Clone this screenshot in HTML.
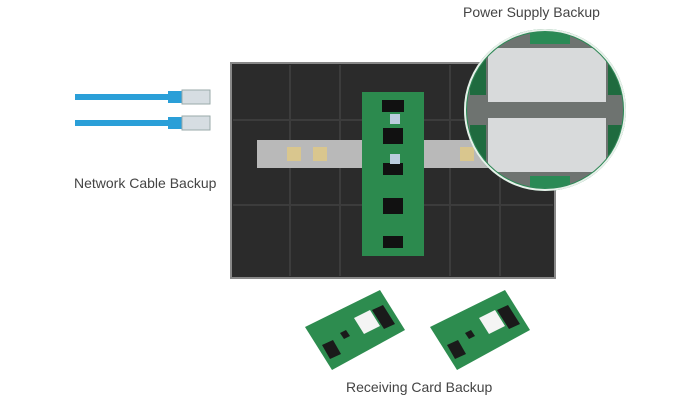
<!DOCTYPE html>
<html><head><style>
html,body{margin:0;padding:0;background:#fff;width:700px;height:400px;overflow:hidden}
text{font-family:"Liberation Sans","DejaVu Sans",sans-serif;fill:#444}
</style></head><body>
<svg width="700" height="400" viewBox="0 0 700 400">
<defs>
<clipPath id="cc"><circle cx="545" cy="110" r="78"/></clipPath>
</defs>
<g>
<rect x="75" y="94" width="100" height="6" fill="#2a9fd8"/>
<rect x="168" y="91" width="14" height="12" fill="#2a9fd8"/>
<rect x="182" y="90" width="28" height="14" fill="#d6dde2" stroke="#9aa" stroke-width="1"/>
<rect x="75" y="120" width="100" height="6" fill="#2a9fd8"/>
<rect x="168" y="117" width="14" height="12" fill="#2a9fd8"/>
<rect x="182" y="116" width="28" height="14" fill="#d6dde2" stroke="#9aa" stroke-width="1"/>
</g>
<text x="74" y="188" font-size="14">Network Cable Backup</text>
<text x="463" y="17" font-size="14">Power Supply Backup</text>
<text x="346" y="392" font-size="14">Receiving Card Backup</text>
<rect x="231" y="63" width="324" height="215" fill="#2b2b2b" stroke="#888" stroke-width="2"/>
<g stroke="#3c3c3c" stroke-width="2">
<line x1="290" y1="65" x2="290" y2="276"/><line x1="340" y1="65" x2="340" y2="276"/>
<line x1="450" y1="65" x2="450" y2="276"/><line x1="500" y1="65" x2="500" y2="276"/>
<line x1="233" y1="120" x2="553" y2="120"/><line x1="233" y1="205" x2="553" y2="205"/>
</g>
<rect x="257" y="140" width="250" height="28" fill="#b9b9b9"/>
<rect x="287" y="147" width="14" height="14" fill="#d9c68e"/>
<rect x="313" y="147" width="14" height="14" fill="#d9c68e"/>
<rect x="460" y="147" width="14" height="14" fill="#d9c68e"/>
<rect x="362" y="92" width="62" height="164" fill="#2c8a4e"/>
<rect x="382" y="100" width="22" height="12" fill="#111"/>
<rect x="383" y="128" width="20" height="16" fill="#111"/>
<rect x="383" y="163" width="20" height="12" fill="#111"/>
<rect x="383" y="198" width="20" height="16" fill="#111"/>
<rect x="383" y="236" width="20" height="12" fill="#111"/>
<rect x="390" y="114" width="10" height="10" fill="#bcd"/>
<rect x="390" y="154" width="10" height="10" fill="#bcd"/>
<circle cx="545" cy="110" r="81" fill="#2a8a55"/>
<g clip-path="url(#cc)">
<rect x="460" y="25" width="170" height="170" fill="#6e7370"/>
<rect x="488" y="48" width="118" height="54" fill="#d8dadb"/>
<rect x="488" y="118" width="118" height="54" fill="#d8dadb"/>
<rect x="470" y="55" width="16" height="40" fill="#1f6b3f"/>
<rect x="470" y="125" width="16" height="40" fill="#1f6b3f"/>
<rect x="608" y="55" width="16" height="40" fill="#1f6b3f"/>
<rect x="608" y="125" width="16" height="40" fill="#1f6b3f"/>
<rect x="530" y="28" width="40" height="16" fill="#2a8a55"/>
<rect x="530" y="176" width="40" height="16" fill="#2a8a55"/>
</g>
<circle cx="545" cy="110" r="80" fill="none" stroke="#e8f0ea" stroke-width="2"/>
<g id="card">
<polygon points="305,327 380,290 405,330 332,370" fill="#2d8c4f"/>
<polygon points="354,318 370,310 380,326 364,334" fill="#f4f4f4"/>
<polygon points="372,310 383,305 395,324 384,329" fill="#1a1a1a"/>
<polygon points="322,345 333,340 341,354 330,359" fill="#1a1a1a"/>
<polygon points="340,333 346,330 350,336 344,339" fill="#1a1a1a"/>
</g>
<use href="#card" x="125" y="0"/>
</svg>
</body></html>
